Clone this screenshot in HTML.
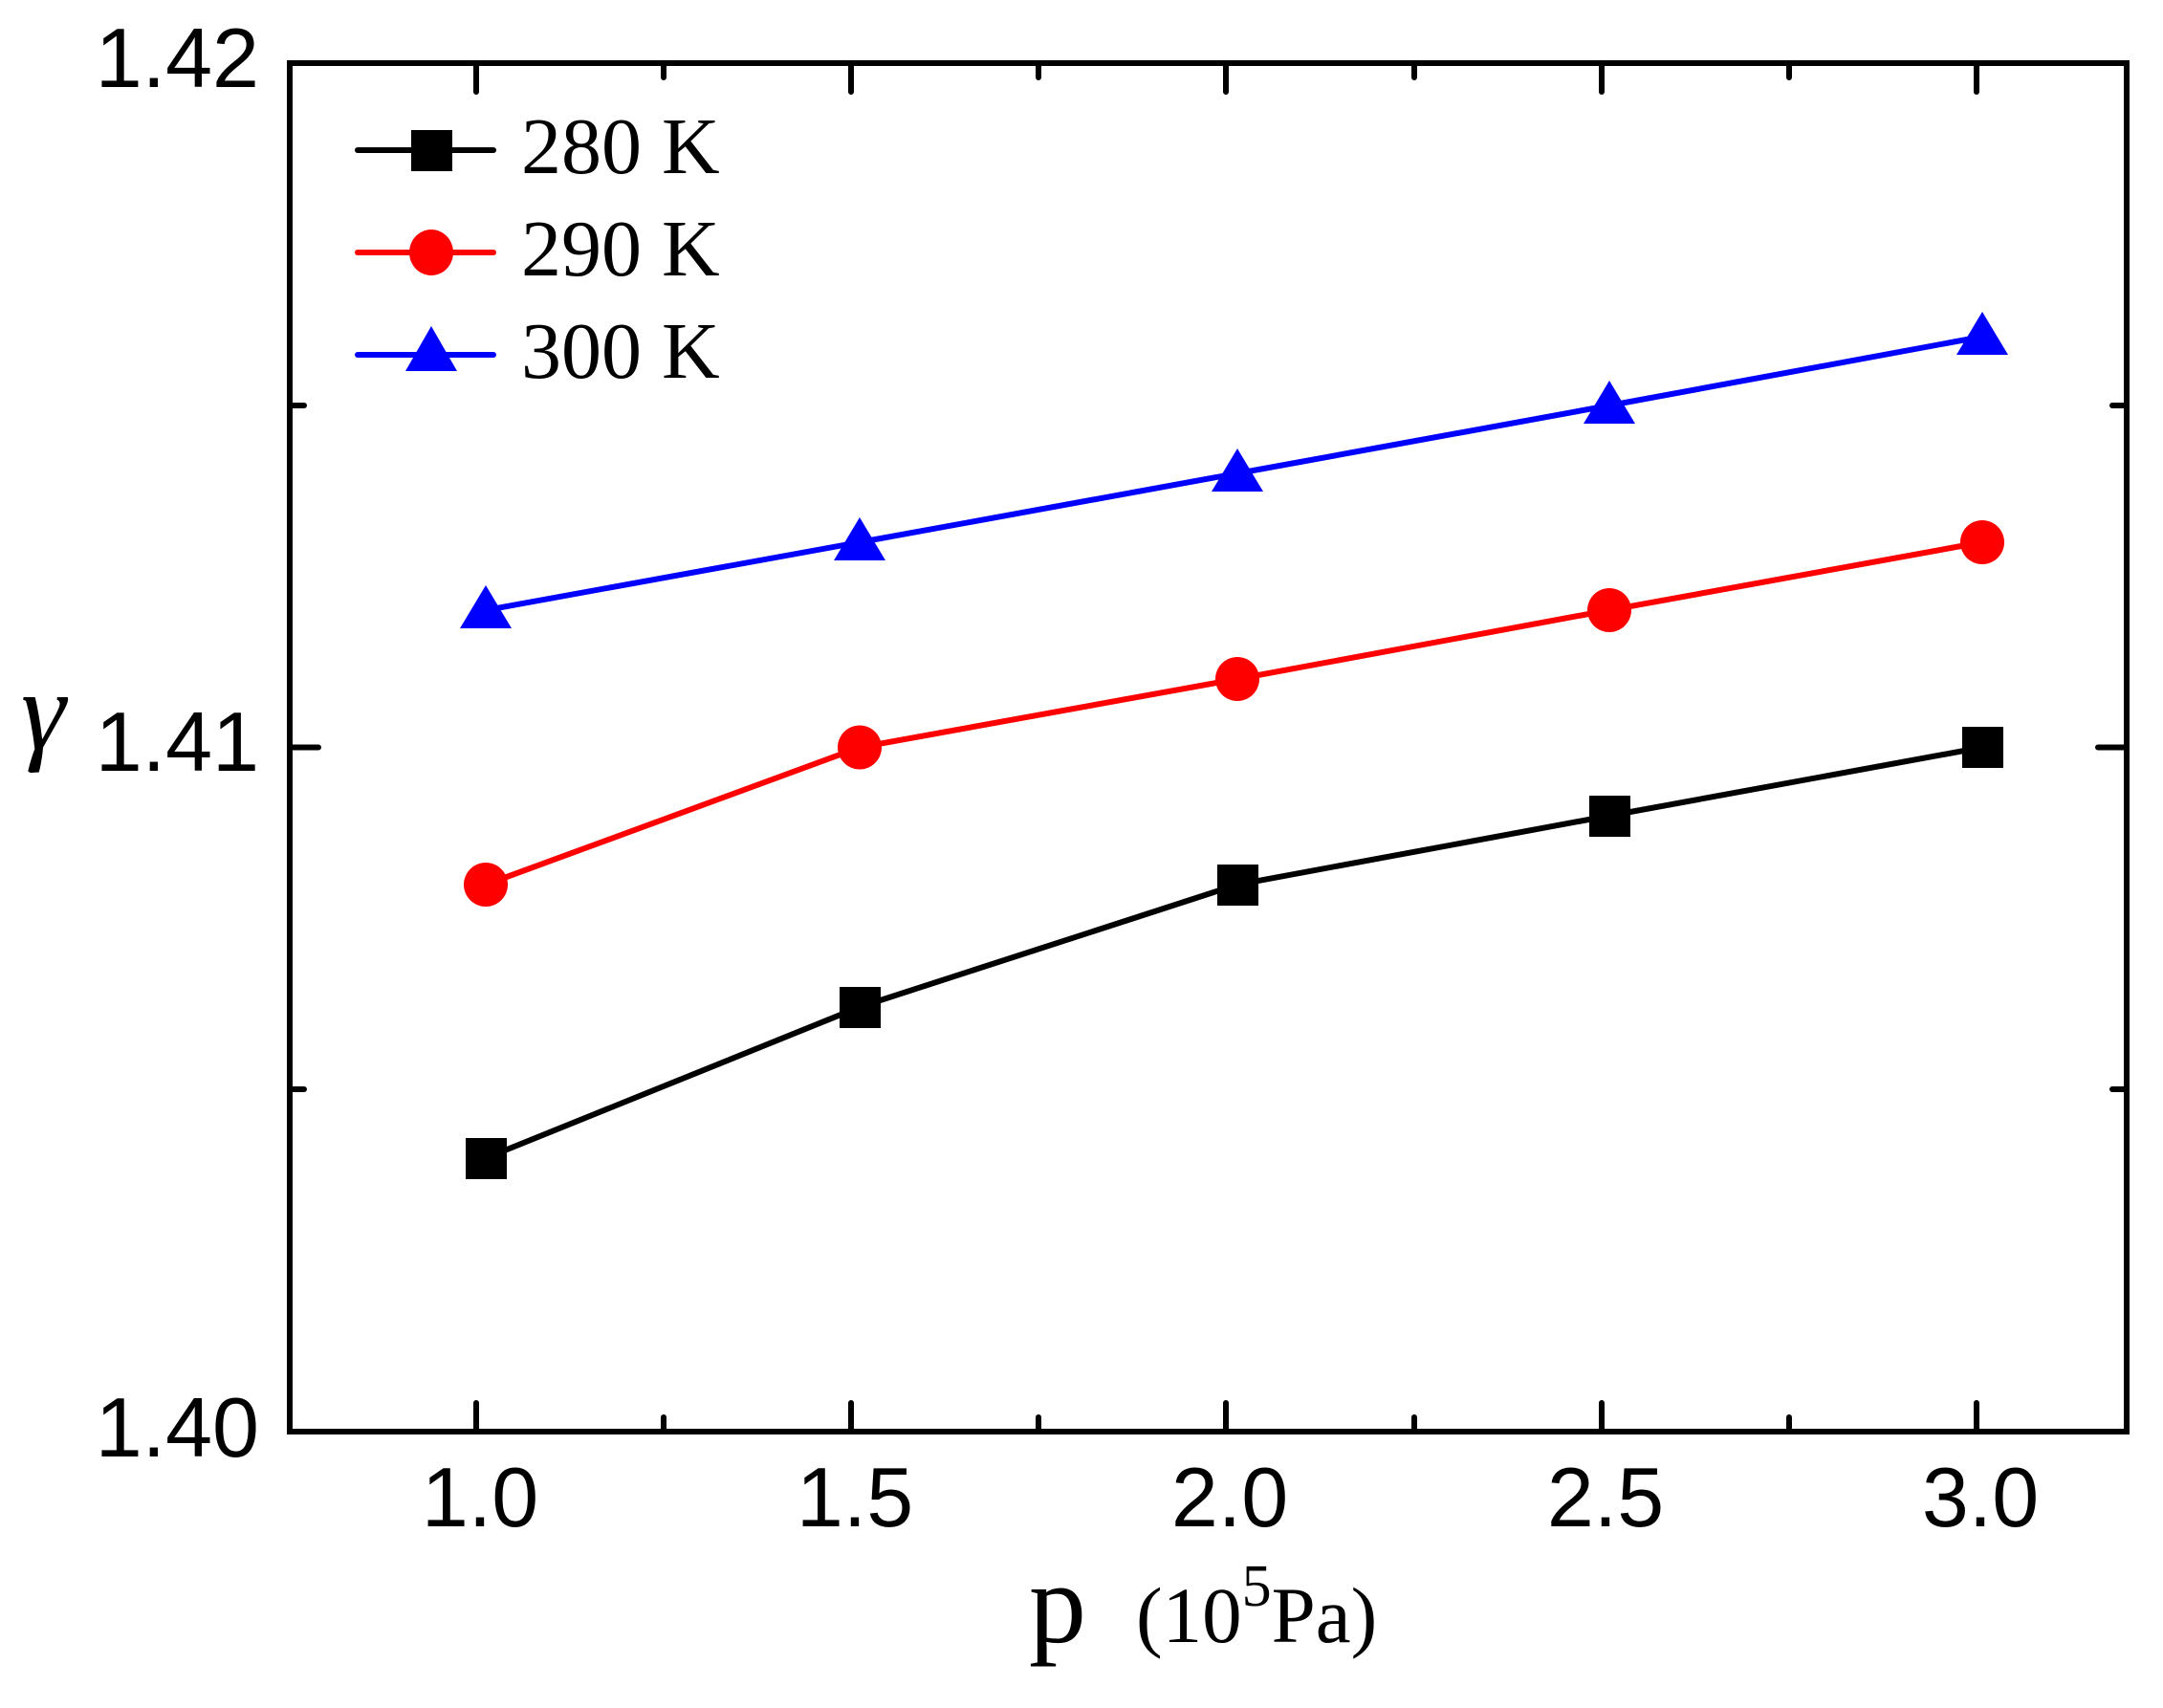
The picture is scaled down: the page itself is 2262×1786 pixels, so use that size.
<!DOCTYPE html>
<html><head><meta charset="utf-8"><style>html,body{margin:0;padding:0;background:#fff}svg{display:block}</style></head>
<body>
<svg width="2262" height="1786" viewBox="0 0 2262 1786" xmlns="http://www.w3.org/2000/svg">
<rect width="2262" height="1786" fill="#fff"/>
<g stroke="#000" stroke-width="6" stroke-linecap="round" fill="none">
<rect x="303" y="66" width="1921" height="1431"/>
<path d="M498 1497v-30M890 1497v-30M1282 1497v-30M1675 1497v-30M2067 1497v-30M694 1497v-15M1086 1497v-15M1479 1497v-15M1871 1497v-15"/>
<path d="M498 66v30M890 66v30M1282 66v30M1675 66v30M2067 66v30M694 66v15M1086 66v15M1479 66v15M1871 66v15"/>
<path d="M303 781.5h30M303 424h15M303 1139h15M2224 781.5h-30M2224 424h-15M2224 1139h-15"/>
</g>
<g font-family="Liberation Sans, Arial, sans-serif" font-size="88" fill="#000">
<text x="271" y="91" text-anchor="end">1.42</text>
<text x="271" y="806" text-anchor="end">1.41</text>
<text x="271" y="1523" text-anchor="end">1.40</text>
<g text-anchor="middle">
<text x="502" y="1596">1.0</text>
<text x="894" y="1596">1.5</text>
<text x="1286" y="1596">2.0</text>
<text x="1679" y="1596">2.5</text>
<text x="2071" y="1596">3.0</text>
</g>
</g>
<g font-family="Liberation Serif, Times New Roman, serif" fill="#000">
<text x="22" y="783" font-size="118" font-style="italic">γ</text>
<text x="1076" y="1717" font-size="120">p</text>
<text x="1188" y="1717" font-size="83">(10<tspan font-size="62" dy="-38">5</tspan><tspan dy="38">Pa)</tspan></text>
<text x="545" y="181" font-size="84">280 K</text>
<text x="545" y="288" font-size="84">290 K</text>
<text x="545" y="395" font-size="84">300 K</text>
</g>
<g stroke-width="6" stroke-linecap="round" fill="none">
<polyline stroke="#000" points="508,1211 899,1053 1294,925 1683,853 2073,781.5"/>
<polyline stroke="#f00" points="508,925 899,781.5 1294,710 1683,638 2073,567"/>
<polyline stroke="#00f" points="508,638 899,567 1294,495 1683,424 2073,352"/>
<path stroke="#000" d="M374 157H516"/>
<path stroke="#f00" d="M374 264H516"/>
<path stroke="#00f" d="M374 371H516"/>
</g>
<g fill="#000">
<rect x="487" y="1190" width="43" height="43"/>
<rect x="878" y="1032" width="43" height="43"/>
<rect x="1273" y="904" width="43" height="43"/>
<rect x="1662" y="832" width="43" height="43"/>
<rect x="2052" y="760" width="43" height="43"/>
<rect x="430" y="136" width="43" height="43"/>
</g>
<g fill="#f00">
<circle cx="508" cy="925" r="23"/><circle cx="899" cy="781.5" r="23"/><circle cx="1294" cy="710" r="23"/><circle cx="1683" cy="638" r="23"/><circle cx="2073" cy="567" r="23"/>
<ellipse cx="451" cy="264" rx="23" ry="24"/>
</g>
<g fill="#00f">
<path d="M508 612l27 45h-54z"/><path d="M899 541l27 45h-54z"/><path d="M1294 469l27 45h-54z"/><path d="M1683 398l27 45h-54z"/><path d="M2073 326l27 45h-54z"/>
<path d="M451 341l27 47h-54z"/>
</g>
</svg>
</body></html>
